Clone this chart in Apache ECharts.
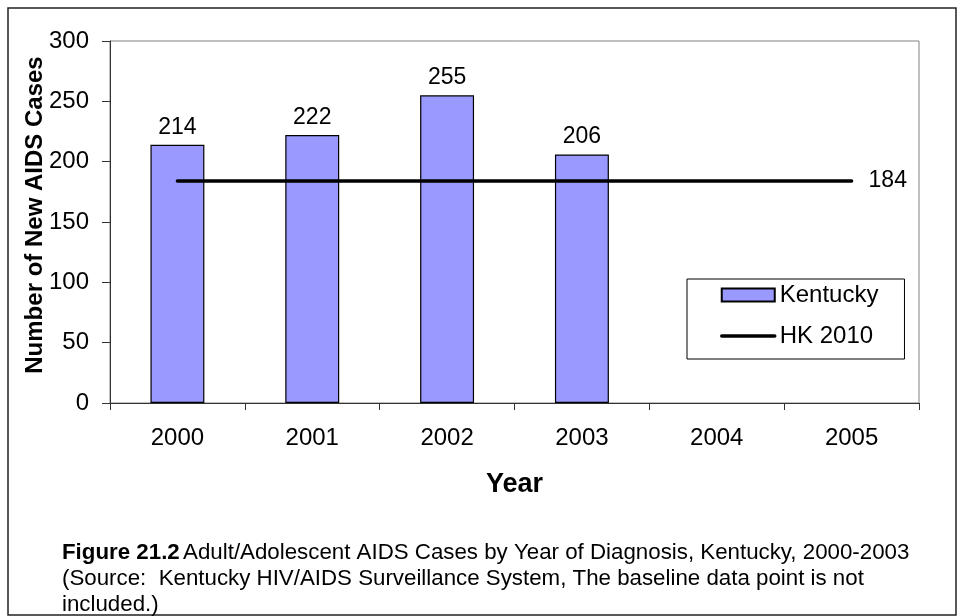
<!DOCTYPE html>
<html>
<head>
<meta charset="utf-8">
<script src="https://cdn.jsdelivr.net/npm/echarts@6/dist/echarts.min.js"></script>
<style>
html,body{margin:0;padding:0;background:#fff;}
#c{width:957px;height:616px;}
</style>
</head>
<body>
<div id="c"></div>
<script>
const categories = ['2000', '2001', '2002', '2003', '2004', '2005'];
const kentucky = [214, 222, 255, 206, null, null];
const hk2010 = [184, 184, 184, 184, 184, 184];
const yTicks = [0, 50, 100, 150, 200, 250, 300];

const FONT = '"Liberation Sans", Arial, sans-serif';
const chart = echarts.init(document.getElementById('c'), null, {renderer: 'canvas'});
chart.setOption({
  backgroundColor: '#fff',
  animation: false,
  textStyle: {fontFamily: FONT, color: '#000'},
  grid: {left: 110, right: 38, top: 41, bottom: 213, show: true, borderColor: '#808080', borderWidth: 1, backgroundColor: 'transparent'},
  legend: {
    orient: 'vertical', left: 687, top: 279,
    padding: [4, 26, 11, 33],
    itemWidth: 53, itemHeight: 13, itemGap: 17,
    backgroundColor: '#fff', borderColor: '#000', borderWidth: 1, borderRadius: 0,
    textStyle: {fontFamily: FONT, fontSize: 24, color: '#000'},
    data: [
      {name: 'Kentucky', icon: 'rect'},
      {name: 'HK 2010', itemStyle: {opacity: 0}, lineStyle: {width: 3.5, color: '#000'}}
    ]
  },
  xAxis: {
    type: 'category', data: categories,
    axisLine: {lineStyle: {color: '#333', width: 1}},
    axisTick: {show: true, length: 7, inside: false, lineStyle: {color: '#333'}},
    axisLabel: {fontFamily: FONT, fontSize: 24, color: '#000', margin: 23},
    name: 'Year', nameLocation: 'middle', nameGap: 68,
    nameTextStyle: {fontFamily: FONT, fontSize: 27, fontWeight: 'bold', color: '#000'}
  },
  yAxis: {
    type: 'value', min: yTicks[0], max: yTicks[yTicks.length - 1], interval: 50,
    splitLine: {show: false},
    axisLine: {show: true, lineStyle: {color: '#333', width: 1}},
    axisTick: {show: true, length: 8, lineStyle: {color: '#333'}},
    axisLabel: {fontFamily: FONT, fontSize: 24, color: '#000', margin: 21}
  },
  series: [
    {
      name: 'Kentucky', type: 'bar', data: kentucky, barWidth: '40%',
      itemStyle: {color: '#9999FF', borderColor: '#000', borderWidth: 1.2},
      label: {show: true, position: 'top', distance: 6, fontFamily: FONT, fontSize: 23, color: '#000'}
    },
    {
      name: 'HK 2010', type: 'line', data: hk2010, symbol: 'none',
      lineStyle: {color: '#000', width: 3.5, cap: 'round'},
      itemStyle: {color: '#000'},
      endLabel: {show: true, distance: 17, fontFamily: FONT, fontSize: 23, color: '#000', formatter: p => p.value}
    }
  ],
  graphic: [
    {type: 'rect', silent: true, shape: {x: 8, y: 8, width: 948, height: 607}, style: {fill: 'none', stroke: '#222', lineWidth: 1.5}},
    {
      type: 'text', x: 35, y: 215, rotation: Math.PI / 2, silent: true,
      style: {
        text: 'Number of New AIDS Cases', fontFamily: FONT, fontSize: 24, fontWeight: 'bold', fill: '#000',
        align: 'center', verticalAlign: 'middle'
      }
    },
    {
      type: 'text', left: 62, top: 542,
      style: {
        rich: {
          b: {fontFamily: FONT, fontSize: 22.3, fontWeight: 'bold', fill: '#000', lineHeight: 26},
          n: {fontFamily: FONT, fontSize: 22.3, fill: '#000', lineHeight: 26}
        },
        text: '{b|Figure 21.2} {n|Adult/Adolescent AIDS Cases by Year of Diagnosis, Kentucky, 2000-2003}\n{n|(Source:  Kentucky HIV/AIDS Surveillance System, The baseline data point is not}\n{n|included.)}'
      }
    }
  ]
});
</script>
</body>
</html>
